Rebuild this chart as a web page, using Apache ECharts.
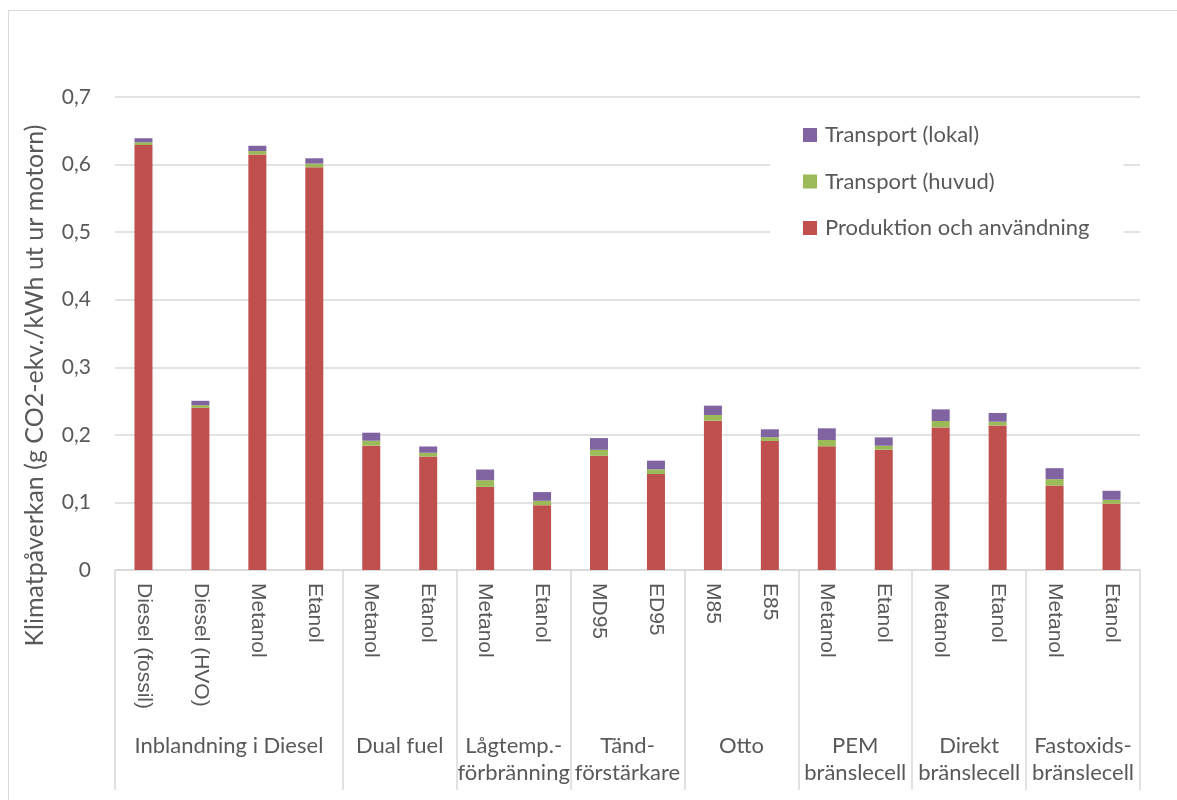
<!DOCTYPE html>
<html>
<head>
<meta charset="utf-8">
<script src="https://cdn.jsdelivr.net/npm/echarts@6/dist/echarts.min.js"></script>
<style>
  html, body { margin: 0; padding: 0; background: #fff; }
  #frame { position: absolute; left: 8px; top: 10px; width: 1200px; height: 820px;
           border: 1.5px solid #d9d9d9; box-sizing: border-box; }
  #chart { position: absolute; left: 0; top: 0; width: 1177px; height: 800px; }
</style>
</head>
<body>
<div id="frame"></div>
<div id="chart"></div>
<script>
// Fuel / technology per bar
const categories = [
  'Diesel (fossil)', 'Diesel (HVO)', 'Metanol', 'Etanol',
  'Metanol', 'Etanol',
  'Metanol', 'Etanol',
  'MD95', 'ED95',
  'M85', 'E85',
  'Metanol', 'Etanol',
  'Metanol', 'Etanol',
  'Metanol', 'Etanol'
];

// Engine / conversion concept, with the number of bars in each
const groupNames = [
  'Inblandning i Diesel', 'Dual fuel', 'Lågtemp.-\nförbränning', 'Tänd-\nförstärkare',
  'Otto', 'PEM\nbränslecell', 'Direkt\nbränslecell', 'Fastoxids-\nbränslecell'
];
const groupSizes = [4, 2, 2, 2, 2, 2, 2, 2];

// g CO2-ekv./kWh ut ur motorn
const production = [0.629, 0.240, 0.615, 0.596, 0.184, 0.168, 0.123, 0.096, 0.169,
                    0.142, 0.221, 0.191, 0.183, 0.178, 0.211, 0.214, 0.125, 0.098];
const transportMain = [0.004, 0.004, 0.005, 0.0055, 0.0074, 0.0055, 0.0099, 0.0064, 0.0089,
                       0.007, 0.0084, 0.0054, 0.0094, 0.0059, 0.0095, 0.0055, 0.0094, 0.0059];
const transportLocal = [0.006, 0.0064, 0.0078, 0.0078, 0.0118, 0.0093, 0.0158, 0.0129, 0.0173,
                        0.0128, 0.0138, 0.0118, 0.0173, 0.0124, 0.0172, 0.0129, 0.0163, 0.0133];

const yTicks = [0, 0.1, 0.2, 0.3, 0.4, 0.5, 0.6, 0.7];

// group boundaries and centres on a 0..N scale
const bounds = [0];
groupSizes.forEach(n => bounds.push(bounds[bounds.length - 1] + n));
const centres = groupSizes.map((n, i) => bounds[i] + n / 2);

const textColor = '#595959';
const lineColor = '#d9d9d9';
const mainFont = 'Lato';

const chart = echarts.init(document.getElementById('chart'), null, { renderer: 'canvas' });

chart.setOption({
  animation: false,
  backgroundColor: 'transparent',
  textStyle: { fontFamily: mainFont, color: textColor },
  grid: { left: 115, right: 37, top: 97, bottom: 230, containLabel: false },
  legend: {
    orient: 'vertical',
    left: 770,
    top: 118,
    data: ['Transport (lokal)', 'Transport (huvud)', 'Produktion och användning'],
    itemWidth: 14,
    itemHeight: 14,
    itemGap: 24.5,
    icon: 'rect',
    backgroundColor: '#ffffff',
    padding: [6, 34, 6, 33],
    textStyle: { fontFamily: mainFont, fontSize: 22, color: textColor, padding: [0, 0, 0, 3] }
  },
  xAxis: [
    {
      type: 'category',
      data: categories,
      axisLine: { show: true, lineStyle: { color: lineColor, width: 1.5 } },
      axisTick: { show: false },
      axisLabel: {
        rotate: -90,
        margin: 13,
        fontFamily: 'Liberation Sans',
        fontSize: 21,
        color: textColor
      }
    },
    {
      type: 'value',
      min: 0,
      max: categories.length,
      position: 'bottom',
      axisLine: { show: false },
      splitLine: { show: false },
      axisTick: {
        show: true,
        customValues: bounds,
        length: 220,
        lineStyle: { color: lineColor, width: 1.5 }
      },
      axisLabel: {
        show: true,
        customValues: centres,
        margin: 162,
        fontFamily: mainFont,
        fontSize: 22,
        lineHeight: 27,
        color: textColor,
        formatter: v => {
          const i = centres.indexOf(v);
          return i >= 0 ? groupNames[i] : '';
        }
      }
    }
  ],
  yAxis: {
    type: 'value',
    min: 0,
    max: 0.7,
    interval: 0.1,
    name: 'Klimatpåverkan (g CO2-ekv./kWh ut ur motorn)',
    nameLocation: 'middle',
    nameGap: 68,
    nameTextStyle: { fontFamily: mainFont, fontSize: 25, color: textColor, padding: [0, 104, 0, 0] },
    axisLine: { show: false },
    axisTick: { show: false },
    splitLine: { lineStyle: { color: lineColor, width: 1.5 } },
    axisLabel: {
      margin: 24,
      fontFamily: mainFont,
      fontSize: 21,
      color: textColor,
      customValues: yTicks,
      formatter: v => (v === 0 ? '0' : v.toFixed(1).replace('.', ','))
    }
  },
  series: [
    {
      name: 'Produktion och användning',
      type: 'bar',
      stack: 'total',
      barWidth: 18,
      data: production,
      itemStyle: { color: '#C0504D' }
    },
    {
      name: 'Transport (huvud)',
      type: 'bar',
      stack: 'total',
      barWidth: 18,
      data: transportMain,
      itemStyle: { color: '#9BBB59' }
    },
    {
      name: 'Transport (lokal)',
      type: 'bar',
      stack: 'total',
      barWidth: 18,
      data: transportLocal,
      itemStyle: { color: '#8064A2' }
    }
  ]
});
</script>
</body>
</html>
